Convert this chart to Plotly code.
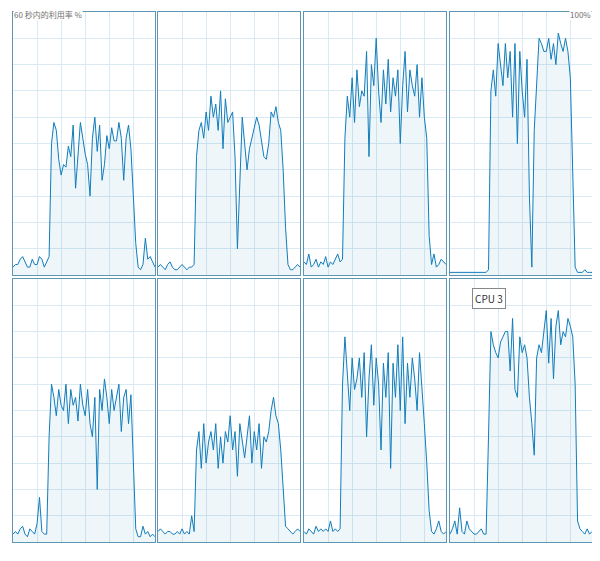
import plotly.graph_objects as go

# 60-second CPU utilisation history, one value per second, per logical CPU
SECONDS = list(range(60))
CPU0 = [3,4,4,6,7,5,3,3,6,4,4,7,6,3,5,7,
        50,58,55,44,38,42,41,49,45,57,33,46,58,52,46,42,30,52,60,47,57,36,42,53,48,56,51,51,58,52,36,52,57,48,30,12,
        3,2,4,14,6,7,5,3]
CPU1 = [3,4,3,2,4,5,3,2,2,3,4,3,2,3,3,4,
        45,55,58,52,62,55,68,60,65,55,70,48,67,58,60,62,45,10,35,60,50,40,48,52,55,60,57,50,45,44,50,62,60,64,58,55,40,18,
        4,2,2,3,4,3]
CPU2 = [5,4,8,3,4,6,3,5,4,7,3,5,4,6,8,5,6,
        52,68,60,75,58,78,64,70,68,85,45,80,72,90,70,58,78,65,82,62,75,68,78,50,72,85,62,78,72,68,80,60,75,60,52,15,
        4,8,3,4,6,5,4]
CPU3 = [1,1,1,1,1,1,1,1,1,1,1,1,1,1,1,1,2,
        70,78,68,88,80,72,88,75,85,60,88,50,85,70,60,82,30,3,55,72,90,88,85,85,90,82,88,80,92,88,85,90,85,75,40,
        3,1,1,1,2,1,1,1]
CPU4 = [3,4,3,5,6,3,2,5,4,3,7,17,4,3,3,
        40,60,55,48,58,52,50,60,45,58,52,55,46,60,52,48,58,45,40,55,20,58,50,62,55,45,58,50,55,60,42,55,58,45,56,30,
        5,2,2,6,3,4,2,3,2]
CPU5 = [4,5,4,3,4,4,3,3,4,3,5,3,4,3,10,4,
        35,42,28,45,30,38,42,35,45,28,40,30,42,38,48,35,42,25,45,38,32,40,48,30,42,35,45,28,40,38,42,50,55,48,45,35,20,
        6,5,4,3,4,5,4]
CPU6 = [4,3,5,4,3,6,4,5,4,5,4,8,4,5,4,5,
        60,78,65,50,70,58,62,70,55,72,40,62,75,52,70,60,35,68,55,72,28,68,55,75,50,78,45,68,55,70,62,50,72,60,45,30,12,
        4,3,5,8,4,3,4]
CPU7 = [3,5,8,3,13,4,3,8,5,4,3,3,4,5,3,3,
        40,80,75,72,70,76,78,80,80,65,85,58,55,78,72,75,70,55,45,33,70,75,72,80,88,68,85,62,82,88,75,80,78,85,82,78,60,
        8,5,4,3,5,3,4]
PANELS = [CPU0, CPU1, CPU2, CPU3, CPU4, CPU5, CPU6, CPU7]
HOVER_NAME = "CPU 3"

LINE = "#117dbb"; FILL = "rgba(17,125,187,0.07)"; GRID = "#d9eaf4"; FRAME = "#5e95b3"
OFF = 8  # page body margin
W, H = 600 - 2 * OFF, 561 - 2 * OFF
XS = [(13, 155), (158, 300), (304, 446), (450, 592)]
YS = [(12, 275), (279, 542)]

fig = go.Figure()
for i, vals in enumerate(PANELS):
    r, c = divmod(i, 4)
    n = i + 1
    x0, x1 = [v - OFF for v in XS[c]]; y0, y1 = [v - OFF for v in YS[r]]
    fig.add_trace(go.Scatter(x=SECONDS, y=vals, mode="lines", fill="tozeroy",
                             line=dict(color=LINE, width=1), fillcolor=FILL,
                             xaxis=f"x{n}", yaxis=f"y{n}", showlegend=False, hoverinfo="skip"))
    ax = dict(showticklabels=False, ticks="", showgrid=True, gridcolor=GRID, gridwidth=1,
              zeroline=False, showline=True, linecolor=FRAME, linewidth=1, mirror=True)
    fig.layout[f"xaxis{n}"] = dict(ax, domain=[x0 / W, x1 / W], range=[0, 59], dtick=10,
                                   anchor=f"y{n}")
    fig.layout[f"yaxis{n}"] = dict(ax, domain=[1 - y1 / H, 1 - y0 / H], range=[0, 100], dtick=10,
                                   anchor=f"x{n}")

fig.add_annotation(x=(13 - OFF) / W, y=1, xref="paper", yref="paper", xanchor="left", yanchor="top",
                   text="60 秒内的利用率 %", showarrow=False, font=dict(size=8, color="#707070"),
                   bgcolor="white", borderpad=0)
fig.add_annotation(x=(592 - OFF) / W, y=1, xref="paper", yref="paper", xanchor="right", yanchor="top",
                   text="100%", showarrow=False, font=dict(size=8, color="#707070"),
                   bgcolor="white", borderpad=0)
fig.add_annotation(x=(506 - OFF) / W, y=1 - (298 - OFF) / H, xref="paper", yref="paper",
                   text=HOVER_NAME, showarrow=False, font=dict(size=10, color="#333"),
                   bgcolor="white", bordercolor="#888", borderwidth=1, borderpad=2)

fig.update_layout(width=W, height=H, margin=dict(l=0, r=0, t=0, b=0),
                  paper_bgcolor="white", plot_bgcolor="white",
                  font=dict(family="Noto Sans CJK SC, Noto Sans, sans-serif"))
fig.write_html("out.html")
